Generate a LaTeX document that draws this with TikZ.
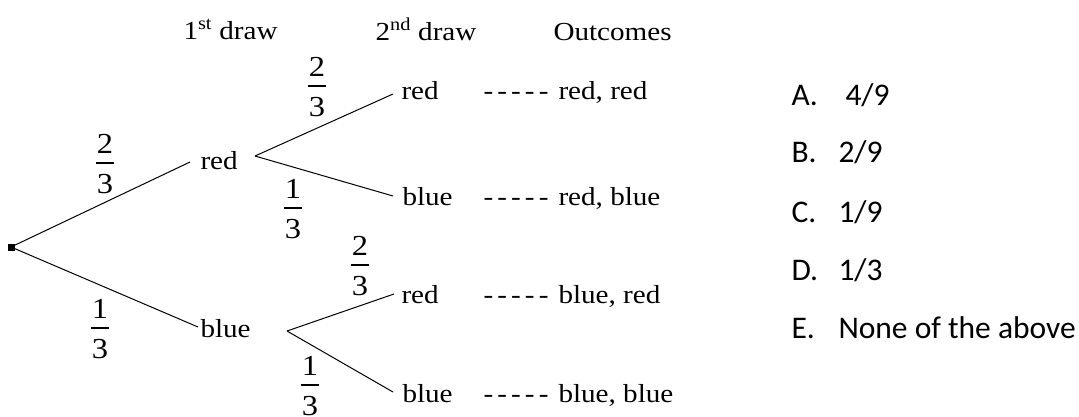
\documentclass[tikz,border=0pt]{standalone}
\usepackage{fontspec}
\setmainfont{Liberation Serif}[FakeStretch=1.12]
\newfontfamily\calibri{Carlito}
\begin{document}
\begin{tikzpicture}[x=1pt,y=-1pt,line width=1pt,
  lbl/.style={inner sep=0pt,font=\fontsize{26}{30}\selectfont,anchor=base west},
  ans/.style={inner sep=0pt,font=\calibri\fontsize{31.5}{36}\selectfont,anchor=base west},
  num/.style={inner sep=0pt,font=\fontsize{29}{32}\selectfont,anchor=south},
  den/.style={inner sep=0pt,font=\fontsize{29}{32}\selectfont,anchor=north},
  bar/.style={line width=1.2pt},
  branch/.style={line width=1pt}]
\useasboundingbox (0,0) rectangle (1079,416);
% headers
\node[lbl] (h1) at (183,39) {1\textsuperscript{st} draw};
\node[lbl] (h2) at (375,40) {2\textsuperscript{nd} draw};
\node[lbl] (h3) at (553,40) {Outcomes};
% root
\coordinate (root) at (11,247);
\fill (root) +(-3.5,-3.5) rectangle +(3.5,3.5);
% first level
\node[lbl] (red1) at (200,169) {red};
\node[lbl] (blue1) at (200,337) {blue};
\coordinate (red1in) at (190,162);
\coordinate (red1out) at (255,156);
\coordinate (blue1in) at (198,327);
\coordinate (blue1out) at (287,331);
% second level
\node[lbl] (rr) at (401,99) {red};
\node[lbl] (rb) at (402,205) {blue};
\node[lbl] (br) at (401,303) {red};
\node[lbl] (bb) at (402,402) {blue};
\coordinate (rrin) at (393,94);
\coordinate (rbin) at (393,196);
\coordinate (brin) at (394,294);
\coordinate (bbin) at (393,392);
% branches
\draw[branch] (root) -- (red1in);
\draw[branch] (root) -- (blue1in);
\draw[branch] (red1out) -- (rrin);
\draw[branch] (red1out) -- (rbin);
\draw[branch] (blue1out) -- (brin);
\draw[branch] (blue1out) -- (bbin);
% outcomes
\foreach \n/\y/\t in {o1/99/{red, red},o2/205/{red, blue},o3/303/{blue, red},o4/402/{blue, blue}}{
  \node[lbl] (\n d) at (483,\y) {\makebox[65pt][s]{-\hfill-\hfill-\hfill-\hfill-}};
  \node[lbl] (\n) at (558,\y) {\t};
}
% fractions
\foreach \n/\x/\y/\a/\b in {f1/105/163/2/3,f2/317/86/2/3,f3/293/208/1/3,f4/100/328/1/3,f5/360/265/2/3,f6/310/385/1/3}{
  \node[num] (\n n) at (\x,\y-9) {\a};
  \node[den] (\n d) at (\x,\y+11) {\b};
  \draw[bar] (\x-9,\y) -- (\x+9,\y);
}
% answers
\node[ans] (A) at (791,105) {A.};
\node[ans] (Av) at (845,105) {4/9};
\node[ans] (B) at (791,162) {B.};
\node[ans] (Bv) at (838,162) {2/9};
\node[ans] (C) at (791,222) {C.};
\node[ans] (Cv) at (838,222) {1/9};
\node[ans] (D) at (791,280) {D.};
\node[ans] (Dv) at (838,280) {1/3};
\node[ans] (E) at (791,338) {E.};
\node[ans] (Ev) at (838,338) {None of the above};
\end{tikzpicture}
\end{document}
